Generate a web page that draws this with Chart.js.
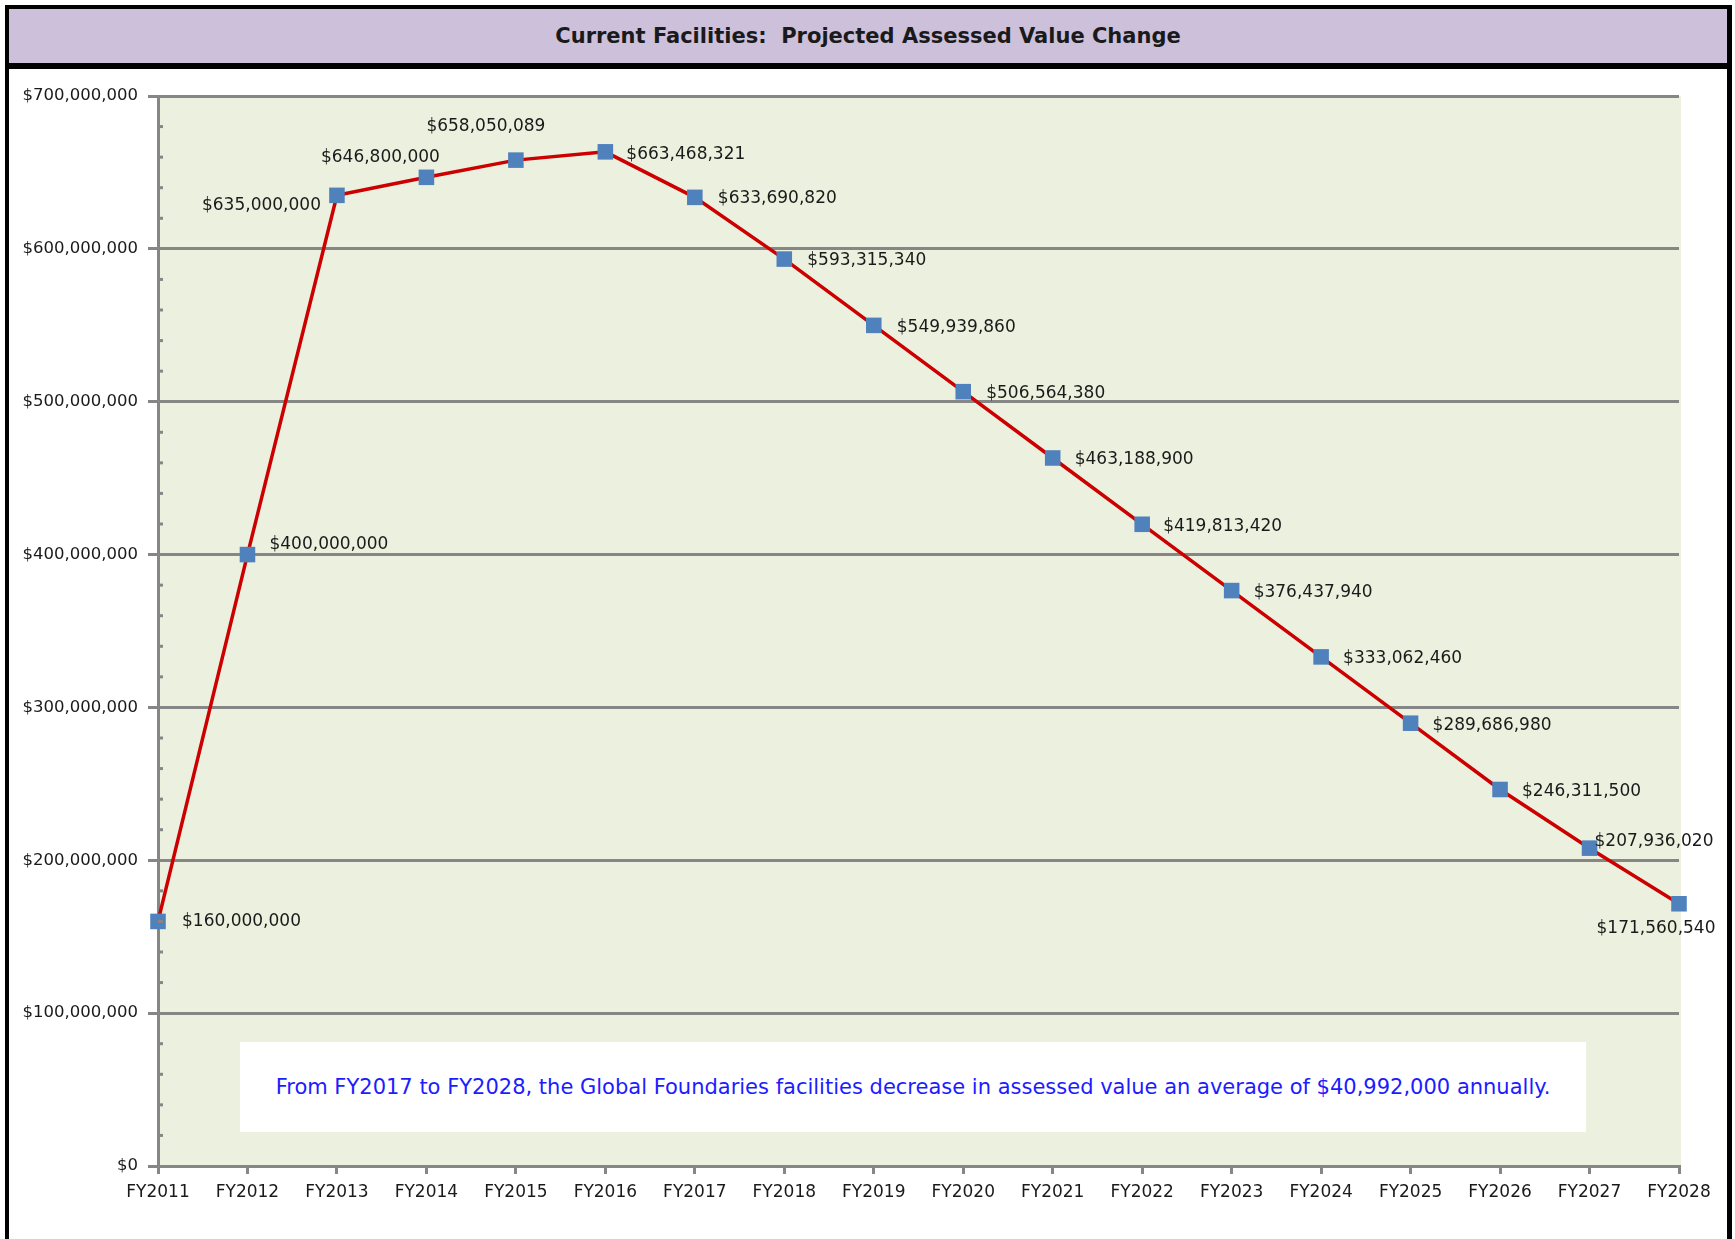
<!DOCTYPE html>
<html>
<head>
<meta charset="utf-8">
<script src="https://cdn.jsdelivr.net/npm/chart.js@4/dist/chart.umd.min.js"></script>
<style>
  html, body { margin: 0; padding: 0; background: #fff; }
  #pagina { position: relative; width: 1735px; height: 1239px; overflow: hidden; background: #fff; font-family: "DejaVu Sans", sans-serif; }
  #grafico { position: absolute; left: 0; top: 0; }
  .borda { position: absolute; background: #000; }
  #titulo {
    position: absolute; left: 9px; top: 9px; width: 1718px; height: 54px;
    background: #CCC0DA; display: flex; align-items: center; justify-content: center;
    font-weight: bold; font-size: 21px; color: #1a1a1a; white-space: pre;
  }
  #nota {
    position: absolute; left: 240px; top: 1042px; width: 1346px; height: 90px;
    background: #fff; display: flex; align-items: center; justify-content: center;
    color: #1c1cff; font-size: 21px; white-space: pre;
  }
</style>
</head>
<body>
<div id="pagina">
  <canvas id="grafico" width="1735" height="1239"></canvas>
  <div class="borda" style="left:5px; top:5px; width:1727px; height:4px;"></div>
  <div class="borda" style="left:5px; top:5px; width:4px; height:1234px;"></div>
  <div class="borda" style="left:1727px; top:5px; width:5px; height:1234px;"></div>
  <div class="borda" style="left:5px; top:63px; width:1727px; height:6px;"></div>
  <div id="titulo">Current Facilities:  Projected Assessed Value Change</div>
  <div id="nota">From FY2017 to FY2028, the Global Foundaries facilities decrease in assessed value an average of $40,992,000 annually.</div>
</div>

<script>
// dados do gráfico
const anos = ['FY2011', 'FY2012', 'FY2013', 'FY2014', 'FY2015', 'FY2016', 'FY2017', 'FY2018', 'FY2019',
              'FY2020', 'FY2021', 'FY2022', 'FY2023', 'FY2024', 'FY2025', 'FY2026', 'FY2027', 'FY2028'];
const valores = [160000000, 400000000, 635000000, 646800000, 658050089, 663468321, 633690820, 593315340, 549939860,
                 506564380, 463188900, 419813420, 376437940, 333062460, 289686980, 246311500, 207936020, 171560540];
const eixoY = { min: 0, max: 700000000, passo: 100000000, passoMenor: 20000000 };

// posição dos rótulos relativa a cada ponto: [alinhamento, dx, dy]
const posRotulos = [
  ['left', 24, 0], ['left', 22, -10], ['right', -16, 10], ['center', -46, -20], ['center', -30, -34],
  ['left', 21, 3], ['left', 23, 1], ['left', 23, 2], ['left', 23, 2], ['left', 23, 2], ['left', 22, 2],
  ['left', 21, 2], ['left', 22, 2], ['left', 22, 2], ['left', 22, 2], ['left', 22, 2], ['left', 5, -7],
  ['center', -23, 25]
];

const dinheiro = v => '$' + Number(v).toLocaleString('en-US');
const FONTE = '"DejaVu Sans", sans-serif';

// fundo da área do gráfico
const fundoArea = {
  id: 'fundoArea',
  beforeDraw(chart) {
    const { ctx, chartArea: a } = chart;
    ctx.save();
    ctx.fillStyle = '#EBF1DE';
    ctx.fillRect(a.left, a.top, a.right - a.left + 2, a.bottom - a.top);
    ctx.restore();
  }
};

// marcas menores do eixo Y (para dentro)
const marcasMenores = {
  id: 'marcasMenores',
  afterDraw(chart) {
    const { ctx, chartArea: a } = chart;
    const y = chart.scales.y;
    ctx.save();
    ctx.strokeStyle = '#868686';
    ctx.lineWidth = 3;
    for (let v = eixoY.min; v <= eixoY.max; v += eixoY.passoMenor) {
      if (v % eixoY.passo === 0) continue;
      const py = y.getPixelForValue(v);
      ctx.beginPath();
      ctx.moveTo(a.left, py);
      ctx.lineTo(a.left + 5, py);
      ctx.stroke();
    }
    ctx.restore();
  }
};

// rótulos de dados
const rotulosDados = {
  id: 'rotulosDados',
  afterDatasetsDraw(chart) {
    const { ctx } = chart;
    const pontos = chart.getDatasetMeta(0).data;
    ctx.save();
    ctx.font = '17px ' + FONTE;
    ctx.fillStyle = '#1a1a1a';
    ctx.textBaseline = 'middle';
    pontos.forEach((p, i) => {
      const [alinha, dx, dy] = posRotulos[i];
      ctx.textAlign = alinha;
      ctx.fillText(dinheiro(valores[i]), p.x + dx, p.y + dy);
    });
    ctx.restore();
  }
};

function desenharGrafico() {
  const ctx = document.getElementById('grafico').getContext('2d');
  new Chart(ctx, {
    type: 'line',
    data: {
      labels: anos,
      datasets: [{
        data: valores,
        borderColor: '#CC0000',
        borderWidth: 3.5,
        tension: 0,
        pointStyle: 'rect',
        pointRadius: 11,
        pointHoverRadius: 11,
        pointBackgroundColor: '#4F81BD',
        pointBorderWidth: 0,
        fill: false
      }]
    },
    options: {
      responsive: false,
      animation: false,
      layout: { padding: { top: 96, right: 56, left: 0, bottom: 0 } },
      plugins: { legend: { display: false }, tooltip: { enabled: false } },
      scales: {
        x: {
          offset: false,
          grid: { drawOnChartArea: false, drawTicks: true, tickLength: 8, color: '#868686', tickWidth: 3, lineWidth: 3 },
          border: { color: '#868686', width: 3 },
          ticks: { color: '#1a1a1a', font: { family: FONTE, size: 17 }, padding: 8, maxRotation: 0, autoSkip: false },
          afterFit(s) { s.height = 1239 - 1166; }
        },
        y: {
          min: eixoY.min, max: eixoY.max,
          ticks: { stepSize: eixoY.passo, color: '#1a1a1a', font: { family: FONTE, size: 16.5 }, padding: 10, callback: v => dinheiro(v) },
          grid: { color: '#868686', lineWidth: 3, tickLength: 10 },
          border: { color: '#868686', width: 3 },
          afterFit(s) { s.width = 158; }
        }
      }
    },
    plugins: [fundoArea, marcasMenores, rotulosDados]
  });
}

window.onload = desenharGrafico;
</script>
</body>
</html>
